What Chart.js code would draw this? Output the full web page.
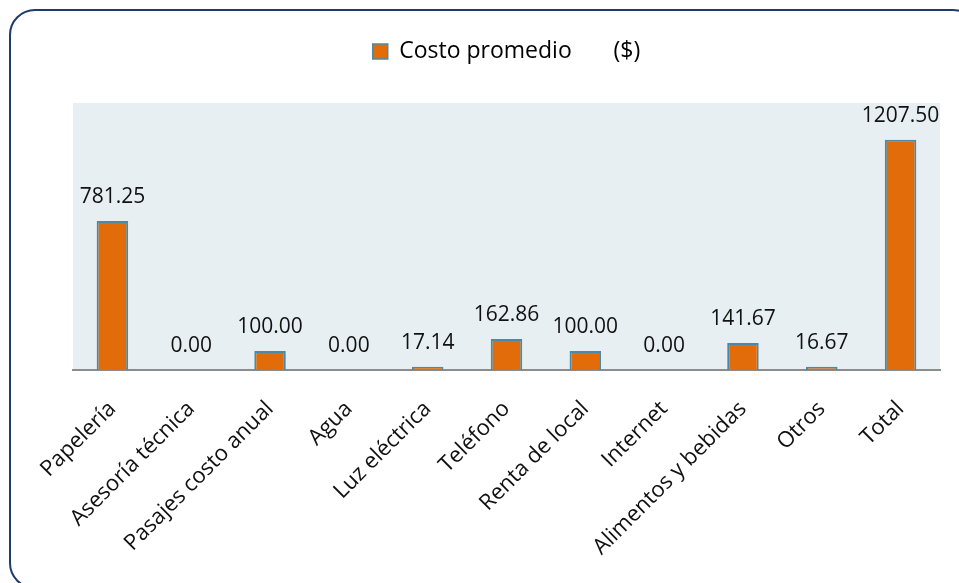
<!DOCTYPE html>
<html>
<head>
<meta charset="utf-8">
<script src="https://cdn.jsdelivr.net/npm/chart.js@4.4.1/dist/chart.umd.min.js"></script>
<style>
  html, body { margin: 0; padding: 0; background: #ffffff; overflow: hidden; }
  #wrap { position: relative; width: 959px; height: 583px; }
  #frame {
    position: absolute; left: 9px; top: 9px; width: 970px; height: 580px;
    border: 2px solid #1F3A6E; border-radius: 26px; box-sizing: border-box;
    pointer-events: none;
  }
  canvas { position: absolute; left: 0; top: 0; }
</style>
</head>
<body>
<div id="wrap">
  <canvas id="chart" width="959" height="583"></canvas>
  <div id="frame"></div>
</div>
<script>
// Average cost per expense category, in pesos
const categories = [
  "Papelería", "Asesoría técnica", "Pasajes costo anual", "Agua", "Luz eléctrica",
  "Teléfono", "Renta de local", "Internet", "Alimentos y bebidas", "Otros", "Total"
];
const costoPromedio = [781.25, 0.00, 100.00, 0.00, 17.14, 162.86, 100.00, 0.00, 141.67, 16.67, 1207.50];
const seriesLabel = "Costo promedio       ($)";

const FONT = "'Open Sans', 'Liberation Sans', sans-serif";

// Extra space between the legend and the plot panel
const legendSpacing = {
  id: 'legendSpacing',
  beforeInit(chart) {
    const legend = chart.legend;
    if (!legend) return;
    const fit = legend.fit;
    legend.fit = function () {
      fit.call(this);
      this.height += 30;
    };
  }
};

// Fill the plot area with a pale blue-grey panel
const plotBackground = {
  id: 'plotBackground',
  beforeDraw(chart) {
    const { ctx, chartArea: a } = chart;
    ctx.save();
    ctx.fillStyle = '#E7EFF2';
    ctx.fillRect(a.left, a.top, a.right - a.left, a.bottom - a.top);
    ctx.restore();
  }
};

// Print each value above its bar
const valueLabels = {
  id: 'valueLabels',
  afterDatasetsDraw(chart) {
    const { ctx } = chart;
    const meta = chart.getDatasetMeta(0);
    const data = chart.data.datasets[0].data;
    ctx.save();
    ctx.font = '21px ' + FONT;
    ctx.fillStyle = '#111111';
    ctx.textAlign = 'center';
    ctx.textBaseline = 'alphabetic';
    meta.data.forEach((bar, i) => {
      ctx.fillText(data[i].toFixed(2), bar.x, bar.y - 18);
    });
    ctx.restore();
  }
};

new Chart(document.getElementById('chart'), {
  type: 'bar',
  data: {
    labels: categories,
    datasets: [{
      label: seriesLabel,
      data: costoPromedio,
      backgroundColor: '#E36C0A',
      borderColor: '#4A8AA6',
      borderWidth: (c) => (c.raw === 0 ? 0 : 2),
      borderSkipped: 'start',
      barPercentage: 0.8,
      categoryPercentage: 0.5
    }]
  },
  options: {
    responsive: false,
    animation: false,
    layout: { padding: { top: 0, left: 73, right: 19, bottom: 0 } },
    plugins: {
      legend: {
        display: true,
        position: 'top',
        labels: {
          font: { family: FONT, size: 23 },
          color: '#111111',
          boxWidth: 15,
          boxHeight: 15,
          padding: 40,
          generateLabels(chart) {
            const ds = chart.data.datasets[0];
            return [{
              text: ds.label,
              fillStyle: '#E36C0A',
              strokeStyle: '#4A8AA6',
              lineWidth: 1.5,
              datasetIndex: 0,
              hidden: false
            }];
          }
        }
      },
      tooltip: { enabled: false }
    },
    scales: {
      x: {
        grid: { display: false },
        border: { display: true, color: '#8C8C8C', width: 2 },
        ticks: {
          font: { family: FONT, size: 22 },
          color: '#111111',
          minRotation: 45,
          maxRotation: 45,
          autoSkip: false,
          padding: 18
        },
        afterFit(scale) { scale.height = 213; }
      },
      y: {
        display: false,
        min: 0,
        max: 1400
      }
    }
  },
  plugins: [legendSpacing, plotBackground, valueLabels]
});
</script>
</body>
</html>
